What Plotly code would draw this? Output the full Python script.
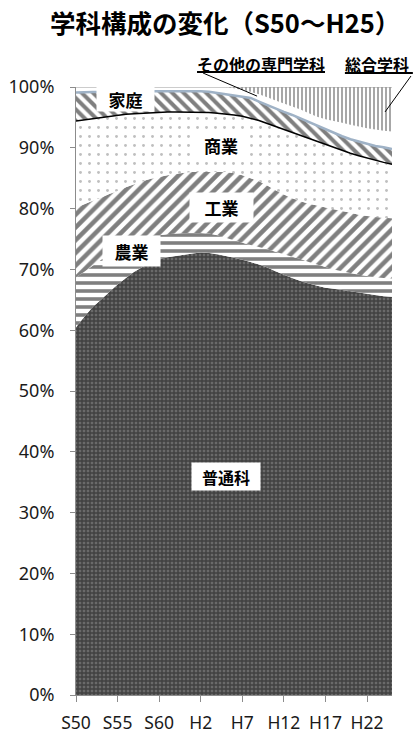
import plotly.graph_objects as go

years = list(range(1975, 2014))
tick_years = [1975, 1980, 1985, 1990, 1995, 2000, 2005, 2010]
tick_labels = ["S50", "S55", "S60", "H2", "H7", "H12", "H17", "H22"]
pct_ticks = list(range(0, 101, 10))
pct_labels = [f"{v}%" for v in pct_ticks]

futsu = [60.5, 62.2, 63.8, 65.0, 66.3, 67.5, 68.6, 69.6, 70.4, 71.2, 71.7, 72.0, 72.2, 72.4, 72.6, 72.8,
         72.7, 72.5, 72.2, 71.9, 71.6, 71.2, 70.8, 70.3, 69.7, 69.1, 68.6, 68.1, 67.7, 67.3, 67.0, 66.8,
         66.6, 66.4, 66.2, 66.0, 65.8, 65.6, 65.5]
nogyo = [8.2, 7.4, 6.8, 6.6, 6.2, 5.8, 5.4, 5.0, 4.6, 4.2, 3.9, 3.8, 3.7, 3.6, 3.4, 3.2, 3.2, 3.1, 3.0,
         2.9, 2.8, 2.8, 2.9, 3.0, 3.2, 3.4, 3.5, 3.6, 3.5, 3.5, 3.4, 3.2, 3.1, 3.0, 2.9, 2.9, 2.9, 3.0, 3.0]
kogyo = [11.5, 11.1, 10.7, 10.2, 9.9, 9.6, 9.5, 9.4, 9.5, 9.5, 9.6, 9.7, 9.8, 9.9, 10.0, 10.0, 10.1,
         10.4, 10.8, 11.0, 11.1, 11.0, 10.8, 10.5, 10.1, 9.8, 9.6, 9.5, 9.6, 9.7, 9.8, 9.9, 9.9, 9.9,
         9.9, 9.9, 9.9, 9.9, 9.9]
shogyo = [14.2, 13.9, 13.5, 13.2, 12.8, 12.5, 12.0, 11.6, 11.2, 10.9, 10.6, 10.4, 10.2, 10.0, 9.9,
          9.9, 9.8, 9.7, 9.6, 9.6, 9.7, 9.9, 10.0, 10.2, 10.5, 10.7, 10.8, 10.8, 10.7, 10.5, 10.3,
          10.1, 9.9, 9.8, 9.7, 9.5, 9.3, 9.1, 8.9]
katei = [4.7, 4.5, 4.4, 4.2, 4.1, 3.9, 3.8, 3.8, 3.7, 3.6, 3.6, 3.5, 3.5, 3.5, 3.5, 3.4, 3.4, 3.3,
         3.2, 3.2, 3.2, 3.3, 3.1, 3.0, 3.0, 2.9, 2.9, 2.8, 2.7, 2.6, 2.5, 2.5, 2.4, 2.3, 2.3, 2.3,
         2.4, 2.5, 2.5]
sonota = [0.9, 0.9, 0.8, 0.8, 0.7, 0.7, 0.7, 0.6, 0.6, 0.6, 0.6, 0.6, 0.6, 0.6, 0.6, 0.7, 0.8, 1.0,
          1.2, 1.2, 1.1, 1.0, 1.2, 1.3, 1.3, 1.4, 1.4, 1.5, 1.5, 1.5, 1.7, 1.9, 2.2, 2.4, 2.5, 2.6,
          2.7, 2.7, 2.9]
sogo = [0.0] * 19 + [0.2, 0.5, 0.8, 1.2, 1.7, 2.2, 2.7, 3.2, 3.7, 4.3, 4.9, 5.3, 5.6, 5.9, 6.2, 6.5,
                     6.8, 7.0, 7.2, 7.3]

series = [
    ("普通科", futsu, dict(shape="+", fgcolor="#161616", bgcolor="#6a6a6a", size=4, solidity=0.6), None),
    ("農業", nogyo, dict(shape="-", fgcolor="#000000", bgcolor="#ffffff", size=8, solidity=0.45), None),
    ("工業", kogyo, dict(shape="/", fgcolor="#000000", bgcolor="#ffffff", size=9, solidity=0.5), None),
    ("商業", shogyo, dict(shape=".", fgcolor="#808080", bgcolor="#ffffff", size=9, solidity=0.08),
     dict(color="#000000", width=1.5)),
    ("家庭", katei, dict(shape="\\", fgcolor="#000000", bgcolor="#ffffff", size=8, solidity=0.5),
     dict(color="#9fb2c6", width=2.5)),
    ("その他の専門学科", sonota, None, None),
    ("総合学科", sogo, dict(shape="|", fgcolor="#3c3c3c", bgcolor="#ffffff", size=4, solidity=0.45),
     dict(color="#999999", width=1.2)),
]

fig = go.Figure()
for i, (name, vals, pat, line) in enumerate(series):
    kw = dict(x=years, y=vals, name=name, stackgroup="one", showlegend=False)
    if i == 0:
        kw["groupnorm"] = "percent"
    if line is None:
        kw["mode"] = "none"
    else:
        kw["mode"] = "lines"
        kw["line"] = dict(color=line["color"], width=line["width"])
    if pat is None:
        kw["fillcolor"] = "#ffffff"
    else:
        kw["fillcolor"] = pat["bgcolor"]
        kw["fillpattern"] = pat
    fig.add_trace(go.Scatter(**kw))

cjk = "Noto Sans CJK JP"
labels = [
    ("家庭", 1981.0, 98.0, 57, 24, 17),
    ("商業", 1992.4, 90.4, 54, 22, 17),
    ("工業", 1992.5, 80.1, 63, 29, 17),
    ("農業", 1981.7, 73.0, 57, 30, 17),
    ("普通科", 1993.0, 36.0, 68, 27, 16),
]
for txt, x, y, w, h, fs in labels:
    fig.add_annotation(x=x, y=y, xref="x", yref="y", text="<b>" + txt + "</b>", showarrow=False,
                       font=dict(family=cjk, size=fs, color="#000000"), bgcolor="#ffffff",
                       width=w, height=h, borderpad=0, xanchor="center", yanchor="middle")

fig.add_annotation(x=0.585, y=1.038, xref="paper", yref="paper", text="<b>その他の専門学科</b>",
                   showarrow=False, xanchor="center", yanchor="middle",
                   font=dict(family=cjk, size=16, color="#000000"))
fig.add_annotation(x=0.953, y=1.038, xref="paper", yref="paper", text="<b>総合学科</b>",
                   showarrow=False, xanchor="center", yanchor="middle",
                   font=dict(family=cjk, size=16, color="#000000"))

for x0, y0, x1, y1, w in [
    (0.383, 1.0247, 0.788, 1.0247, 1.8),
    (0.402, 1.023, 0.573, 0.985, 1.0),
    (0.851, 1.023, 1.066, 1.023, 1.8),
    (1.060, 1.018, 0.978, 0.959, 1.0),
]:
    fig.add_shape(type="line", xref="paper", yref="paper", x0=x0, y0=y0, x1=x1, y1=y1,
                  line=dict(color="#000000", width=w))

fig.update_layout(
    width=413, height=736,
    margin=dict(l=76, r=21, t=87, b=41),
    paper_bgcolor="#ffffff", plot_bgcolor="#ffffff",
    title=dict(text="<b>学科構成の変化（S50〜H25）</b>", x=0.545, xref="container", xanchor="center",
               y=1 - 24 / 736, yref="container", yanchor="middle",
               font=dict(family=cjk, size=25.5, color="#000000")),
    showlegend=False,
)
fig.update_xaxes(range=[1975, 2013], tickvals=tick_years, ticktext=tick_labels, showgrid=False,
                 zeroline=False, showline=True, linecolor="#8c8c8c", ticks="outside", ticklen=6,
                 tickcolor="#8c8c8c", ticklabelstandoff=6, automargin=False,
                 tickfont=dict(family="Noto Sans", size=17.5, color="#1a1a1a"))
fig.update_yaxes(range=[0, 100], tickvals=pct_ticks, ticktext=pct_labels, showgrid=False,
                 zeroline=False, showline=True, linecolor="#8c8c8c", ticks="outside", ticklen=5,
                 tickcolor="#8c8c8c", ticklabelstandoff=12, automargin=False,
                 tickfont=dict(family="Noto Sans", size=18, color="#1a1a1a"))

fig.write_html("out.html")
